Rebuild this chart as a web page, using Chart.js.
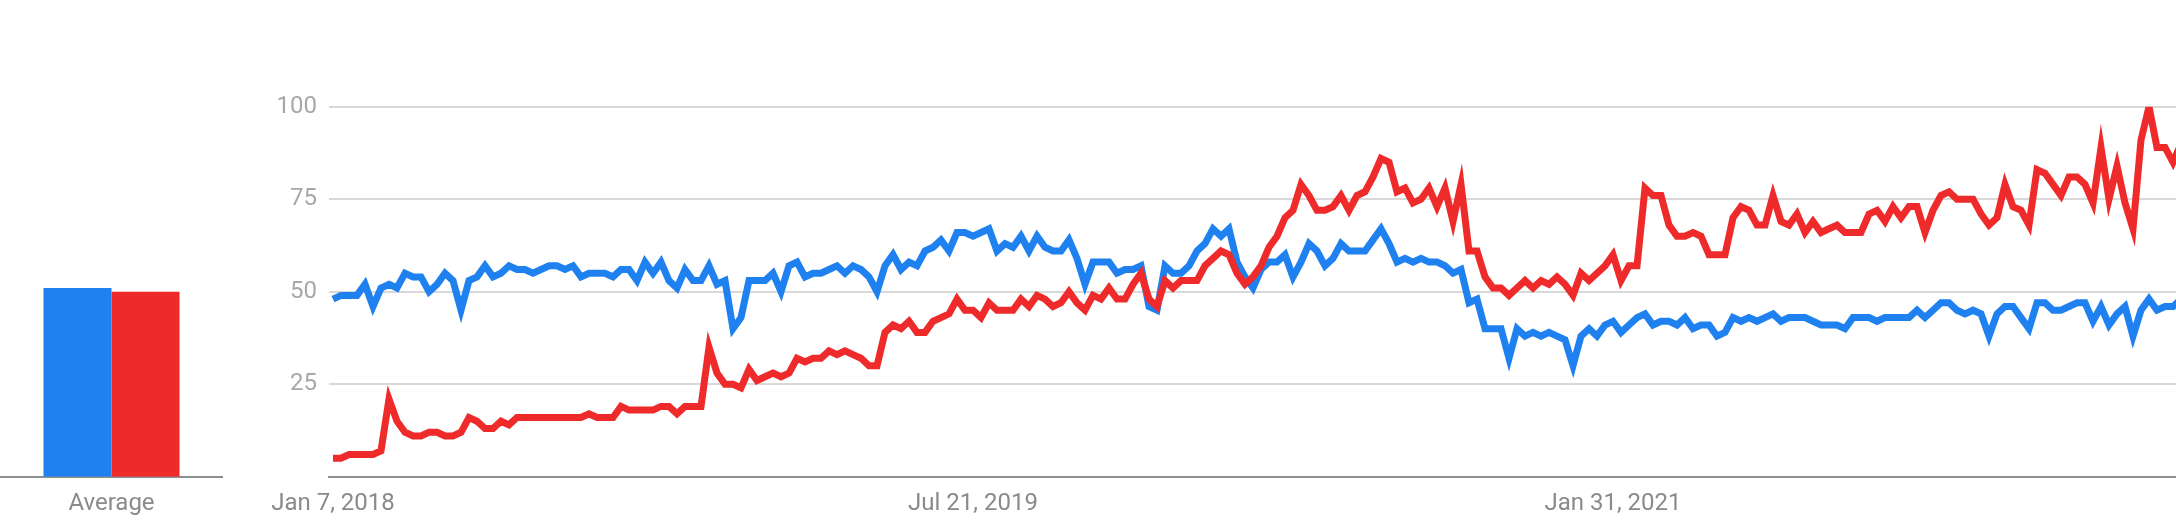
<!DOCTYPE html>
<html>
<head>
<meta charset="utf-8">
<script src="https://cdn.jsdelivr.net/npm/chart.js@4.4.1/dist/chart.umd.min.js"></script>
<style>
  html,body{margin:0;padding:0;background:#fff;overflow:hidden}
  #avg{position:absolute;left:0;top:0}
  #trend{position:absolute;left:250px;top:0}
</style>
</head>
<body>
<canvas id="avg" width="223" height="530"></canvas>
<canvas id="trend" width="1926" height="530"></canvas>
<script>
// weekly interest, index 0 = Jan 7, 2018
const blue=[48,49,49,49,52,46,51,52,51,55, 54,54,50,52,55,53,45,53,54,57, 54,55,57,56,56,55,56,57,57,56,
  57,54,55,55,55,54,56,56,53,58, 55,58,53,51,56,53,53,57,52,53, 40,43,53,53,53,55,50,57,58,54,
  55,55,56,57,55,57,56,54,50,57, 60,56,58,57,61,62,64,61,66,66, 65,66,67,61,63,62,65,61,65,62,
  61,61,64,59,52,58,58,58,55,56, 56,57,46,45,57,55,55,57,61,63, 67,65,67,58,54,51,56,58,58,60,
  54,58,63,61,57,59,63,61,61,61, 64,67,63,58,59,58,59,58,58,57, 55,56,47,48,40,40,40,32,40,38,
  39,38,39,38,37,30,38,40,38,41, 42,39,41,43,44,41,42,42,41,43, 40,41,41,38,39,43,42,43,42,43,
  44,42,43,43,43,42,41,41,41,40, 43,43,43,42,43,43,43,43,45,43, 45,47,47,45,44,45,44,38,44,46,
  46,43,40,47,47,45,45,46,47,47, 42,46,41,44,46,38,45,48,45,46, 46,48];
const red=[5,5,6,6,6,6,7,21,15,12, 11,11,12,12,11,11,12,16,15,13, 13,15,14,16,16,16,16,16,16,16,
  16,16,17,16,16,16,19,18,18,18, 18,19,19,17,19,19,19,35,28,25, 25,24,29,26,27,28,27,28,32,31,
  32,32,34,33,34,33,32,30,30,39, 41,40,42,39,39,42,43,44,48,45, 45,43,47,45,45,45,48,46,49,48,
  46,47,50,47,45,49,48,51,48,48, 52,55,48,46,53,51,53,53,53,57, 59,61,60,55,52,54,57,62,65,70,
  72,79,76,72,72,73,76,72,76,77, 81,86,85,77,78,74,75,78,73,78, 69,79,61,61,54,51,51,49,51,53,
  51,53,52,54,52,49,55,53,55,57, 60,53,57,57,78,76,76,68,65,65, 66,65,60,60,60,70,73,72,68,68,
  76,69,68,71,66,69,66,67,68,66, 66,66,71,72,69,73,70,73,73,66, 72,76,77,75,75,75,71,68,70,79,
  73,72,68,83,82,79,76,81,81,79, 74,89,75,84,74,67,91,100,89,89, 85,90];
const averages=[51,50];
const avgLabels=['Average'];
const tickWeeks=[0,80,160];
const tickLabels=['Jan 7, 2018','Jul 21, 2019','Jan 31, 2021'];
const yTicks=[0,25,50,75,100];

const BLUE='#1f81ef', RED='#ee2a2a';
const FONT={family:'Roboto', size:24};
const AXIS='#8e8e8e';

new Chart(document.getElementById('avg'),{
  type:'bar',
  data:{labels:avgLabels,datasets:[
    {data:[averages[0]],backgroundColor:BLUE},
    {data:[averages[1]],backgroundColor:RED}
  ]},
  options:{
    responsive:false,animation:false,
    layout:{padding:{top:106.7,left:0,right:0,bottom:0}},
    plugins:{legend:{display:false},tooltip:{enabled:false}},
    datasets:{bar:{categoryPercentage:0.61,barPercentage:1}},
    scales:{
      x:{grid:{display:false},border:{color:AXIS,width:2},
         ticks:{font:FONT,color:'#8a8a8a',padding:5},
         afterFit:s=>{s.height=53.3;}},
      y:{display:false,min:0,max:100}
    }
  }
});

const weeks=blue.map((_,i)=>i);
new Chart(document.getElementById('trend'),{
  type:'line',
  data:{labels:weeks,datasets:[
    {data:blue,borderColor:BLUE,borderWidth:7,pointRadius:0,tension:0,order:1},
    {data:red,borderColor:RED,borderWidth:7,pointRadius:0,tension:0,order:0}
  ]},
  options:{
    responsive:false,animation:false,
    layout:{padding:{top:106.7,left:0,right:0,bottom:0}},
    plugins:{legend:{display:false},tooltip:{enabled:false}},
    scales:{
      x:{type:'linear',min:-0.5,max:230.375,
         grid:{display:false},border:{color:AXIS,width:2},
         afterBuildTicks:s=>{s.ticks=tickWeeks.map(v=>({value:v}));},
         ticks:{font:FONT,color:'#8a8a8a',padding:5,maxRotation:0,autoSkip:false,
                callback:(v,i)=>tickLabels[i]},
         afterFit:s=>{s.height=53.3;}},
      y:{min:0,max:100,
         afterBuildTicks:s=>{s.ticks=yTicks.map(v=>({value:v}));},
         grid:{color:c=>c.tick&&c.tick.value===0?'rgba(0,0,0,0)':'#d9d9d9',lineWidth:2,drawTicks:false},
         border:{display:false},
         ticks:{font:FONT,color:'#a8a8a8',padding:12,callback:v=>v===0?'':v},
         afterFit:s=>{s.width=79;}}
    }
  }
});
</script>
</body>
</html>
